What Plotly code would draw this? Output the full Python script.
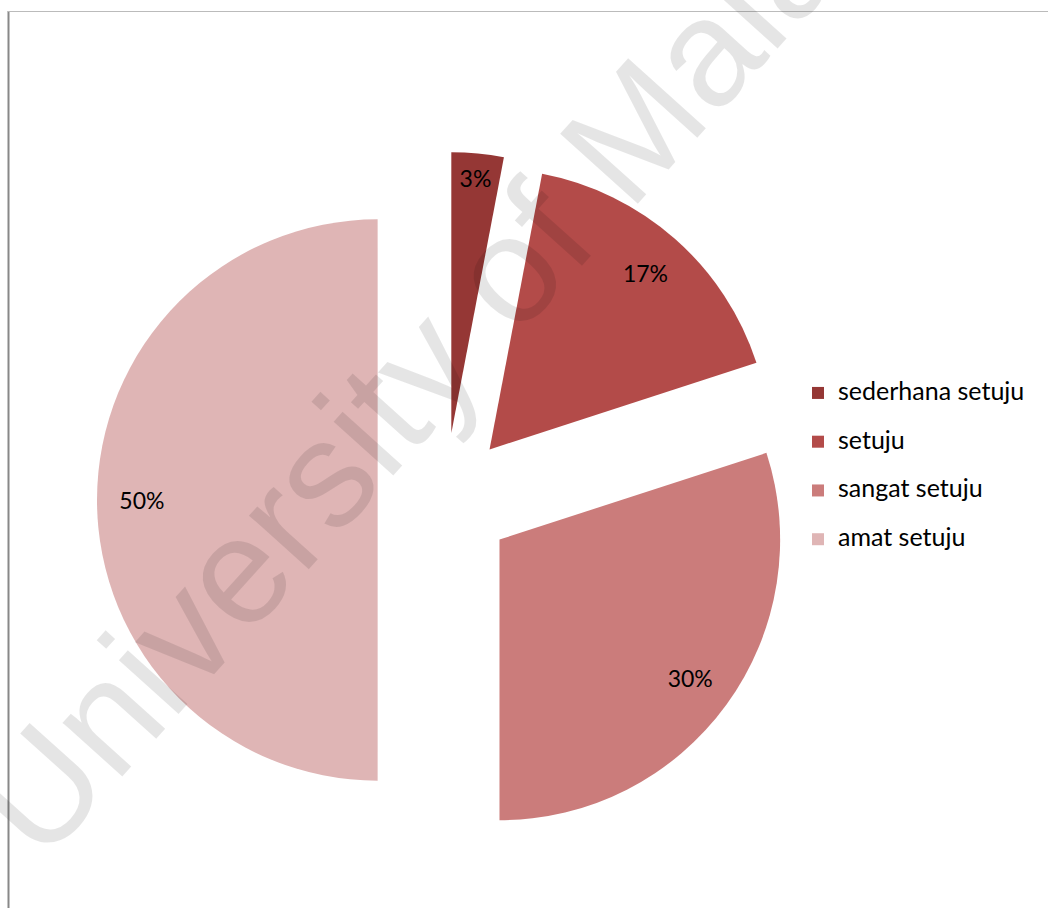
import plotly.graph_objects as go

categories = ["sederhana setuju", "setuju", "sangat setuju", "amat setuju"]
values = [3, 17, 30, 50]
colors = ["#953735", "#B34B49", "#CB7C7B", "#DFB5B5"]
pulls = [0.24, 0.24, 0.24, 0.24]
watermark = "University of Malaya"

W, H = 1048, 908
domain = dict(x=[97 / W, 793 / W], y=[1 - 848 / H, 1 - 152 / H])

legend_labels = [f'<span style="font-size:25px">{c}</span><br> ' for c in categories]

# filled slices (legend + colours)
fig = go.Figure(go.Pie(
    labels=legend_labels,
    values=values,
    customdata=categories,
    sort=False,
    direction="clockwise",
    rotation=0,
    pull=pulls,
    marker=dict(colors=colors, line=dict(width=0)),
    textinfo="none",
    hovertemplate="%{customdata}: %{value}<extra></extra>",
    domain=domain,
))

# same pie as a ring, only to carry the percentage labels near the rim
fig.add_trace(go.Pie(
    labels=legend_labels,
    values=values,
    sort=False,
    direction="clockwise",
    rotation=0,
    pull=pulls,
    hole=0.68,
    marker=dict(colors=["rgba(0,0,0,0)"] * len(values), line=dict(width=0)),
    texttemplate="%{percent:.0%}",
    textposition="inside",
    insidetextorientation="horizontal",
    textfont=dict(family="Lato", size=23, color="black"),
    hoverinfo="skip",
    showlegend=False,
    domain=domain,
))

fig.update_layout(
    width=W, height=H,
    margin=dict(l=0, r=0, t=0, b=0),
    paper_bgcolor="white",
    plot_bgcolor="white",
    uniformtext=dict(minsize=23, mode="show"),
    legend=dict(
        x=798 / W, xanchor="left",
        y=1 - 375 / H, yanchor="top",
        font=dict(family="Lato", size=17.6, color="black"),
        valign="top",
        bgcolor="rgba(0,0,0,0)",
    ),
    shapes=[
        dict(type="line", xref="paper", yref="paper",
             x0=8.5 / W, x1=8.5 / W, y0=0, y1=1 - 11 / H,
             line=dict(color="#888888", width=2)),
        dict(type="line", xref="paper", yref="paper",
             x0=8 / W, x1=1, y0=1 - 11.5 / H, y1=1 - 11.5 / H,
             line=dict(color="#BBBBBB", width=1)),
    ],
    annotations=[
        dict(text=watermark, xref="paper", yref="paper",
             x=460 / W, y=1 - 322 / H, xanchor="center", yanchor="middle",
             showarrow=False, textangle=-48,
             font=dict(family="Liberation Sans", size=152, color="rgba(0,0,0,0.1)")),
    ],
)

fig.write_html("out.html")
